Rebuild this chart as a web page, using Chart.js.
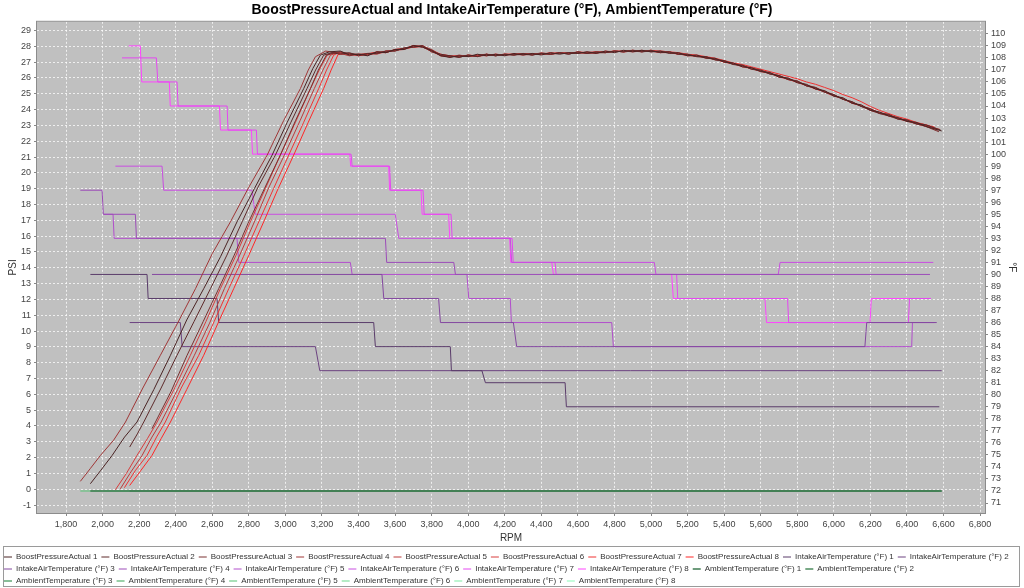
<!DOCTYPE html>
<html>
<head>
<meta charset="utf-8">
<script src="https://cdn.jsdelivr.net/npm/chart.js@4.4.1/dist/chart.umd.min.js"></script>
<style>
  html, body { margin: 0; padding: 0; background: #fff; }
  canvas { display: block; }
</style>
</head>
<body>
<canvas id="chart" width="1024" height="588"></canvas>
<script>
// axis ticks
const rpmTicks = [1800, 2000, 2200, 2400, 2600, 2800, 3000, 3200, 3400, 3600, 3800, 4000, 4200, 4400, 4600, 4800, 5000, 5200,
  5400, 5600, 5800, 6000, 6200, 6400, 6600, 6800];
const psiTicks = [-1, 0, 1, 2, 3, 4, 5, 6, 7, 8, 9, 10, 11, 12, 13, 14, 15, 16, 17, 18, 19, 20, 21, 22, 23, 24, 25, 26, 27, 28, 29];
const degTicks = [71, 72, 73, 74, 75, 76, 77, 78, 79, 80, 81, 82, 83, 84, 85, 86, 87, 88, 89, 90, 91, 92, 93, 94, 95, 96, 97, 98, 99,
  100, 101, 102, 103, 104, 105, 106, 107, 108, 109, 110];

// rpm grid for the flat part of the boost curves (every 50 rpm)
const plateauRpm = [3300, 3350, 3400, 3450, 3500, 3550, 3600, 3650, 3700, 3750, 3800, 3850, 3900, 3950, 4000, 4050, 4100, 4150,
  4200, 4250, 4300, 4350, 4400, 4450, 4500, 4550, 4600, 4650, 4700, 4750, 4800, 4850, 4900, 4950, 5000, 5050, 5100, 5150, 5200,
  5250, 5300, 5350, 5400, 5450, 5500, 5550, 5600, 5650, 5700, 5750, 5800, 5850, 5900, 5950, 6000, 6050, 6100, 6150, 6200, 6250,
  6300, 6350, 6400, 6450, 6500];

// boost ramps [rpm, psi]
const boostRamp1 = [[1933,0.35],[1990,1.2],[2052,2.14],[2120,3.3],[2188,4.25],[2280,6.3],[2371,8.47],[2460,10.7],[2553,12.68],[2645,14.7],[2735,16.9],[2830,19.0],[2927,21.12],[3010,23.2],[3100,25.33],[3150,26.6],[3191,27.44],[3240,27.65]];
const boostRamp2 = [[2148,2.67],[2190,3.5],[2225,4.25],[2320,6.4],[2407,8.47],[2500,10.6],[2590,12.68],[2680,14.8],[2763,16.9],[2850,19.1],[2945,21.12],[3030,23.2],[3118,25.33],[3165,26.5],[3209,27.44],[3255,27.6]];
const boostRamp3 = [[2270,3.83],[2289,4.25],[2375,6.2],[2462,8.47],[2550,10.6],[2635,12.68],[2720,14.8],[2799,16.9],[2885,19.0],[2972,21.12],[3055,23.3],[3137,25.33],[3180,26.5],[3224,27.44],[3270,27.6]];
const boostRamp4 = [[1878,0.5],[1932,1.3],[1988,2.14],[2060,3.1],[2125,4.25],[2220,6.4],[2316,8.47],[2410,10.5],[2508,12.68],[2600,14.9],[2699,16.9],[2800,19.1],[2900,21.12],[2990,23.3],[3082,25.33],[3125,26.5],[3164,27.34],[3220,27.7]];
const boostRamp5 = [[2097,0.03],[2155,1.1],[2216,2.14],[2270,3.3],[2320,4.25],[2410,6.3],[2502,8.47],[2585,10.5],[2666,12.68],[2750,14.8],[2830,16.9],[2910,19.1],[2994,21.12],[3080,23.3],[3158,25.33],[3205,26.5],[3246,27.44],[3285,27.6]];
const boostRamp6 = [[2070,-0.03],[2130,1.0],[2188,2.14],[2245,3.2],[2298,4.25],[2390,6.3],[2480,8.47],[2565,10.6],[2644,12.68],[2730,14.8],[2808,16.9],[2890,19.0],[2972,21.12],[3055,23.2],[3137,25.33],[3185,26.5],[3228,27.44],[3275,27.6]];
const boostRamp7 = [[2119,0.1],[2180,1.2],[2243,2.14],[2295,3.3],[2343,4.25],[2430,6.4],[2526,8.47],[2610,10.6],[2690,12.68],[2770,14.7],[2854,16.9],[2935,19.0],[3018,21.12],[3100,23.2],[3182,25.33],[3225,26.5],[3264,27.44],[3290,27.6]];
const boostRamp8 = [[2148,0.24],[2210,1.2],[2270,2.14],[2320,3.2],[2371,4.25],[2460,6.3],[2553,8.47],[2635,10.6],[2717,12.68],[2800,14.8],[2881,16.9],[2960,19.0],[3045,21.12],[3125,23.2],[3209,25.33],[3250,26.5],[3288,27.48]];

// boost psi on plateauRpm
const boostTop1 = [27.7,27.45,27.5,27.4,27.65,27.6,27.8,27.8,28.05,27.95,
  27.75,27.4,27.3,27.4,27.35,27.5,27.4,27.5,27.4,27.55,
  27.45,27.55,27.45,27.6,27.5,27.6,27.55,27.65,27.55,27.7,
  27.6,27.75,27.65,27.75,27.65,27.7,27.55,27.6,27.4,27.45,
  27.25,27.25,27.0,26.95,26.7,26.65,26.4,26.35,26.05,26.0,
  25.7,25.6,25.3,25.2,24.85,24.75,24.4,24.3,23.95,23.85,
  23.6,23.5,23.25,23.2,22.95];
const boostTop2 = [27.5,27.6,27.4,27.55,27.55,27.7,27.7,27.9,27.95,28.05,
  27.65,27.5,27.4,27.3,27.45,27.35,27.5,27.4,27.5,27.45,
  27.55,27.45,27.55,27.5,27.6,27.5,27.65,27.55,27.65,27.6,
  27.7,27.65,27.75,27.65,27.75,27.6,27.65,27.5,27.5,27.35,
  27.35,27.15,27.1,26.85,26.8,26.55,26.5,26.25,26.15,25.9,
  25.8,25.5,25.4,25.1,24.95,24.65,24.5,24.2,24.05,23.75,
  23.7,23.4,23.35,23.1,23.05];
const boostTop3 = [27.65,27.55,27.5,27.45,27.65,27.6,27.8,27.85,28.05,27.95,
  27.7,27.4,27.4,27.3,27.45,27.35,27.5,27.4,27.5,27.45,
  27.5,27.45,27.55,27.5,27.6,27.5,27.65,27.55,27.6,27.6,
  27.7,27.65,27.75,27.65,27.7,27.6,27.65,27.5,27.45,27.35,
  27.3,27.15,27.05,26.85,26.8,26.55,26.45,26.25,26.15,25.9,
  25.8,25.5,25.35,25.1,24.9,24.65,24.45,24.2,23.95,23.75,
  23.6,23.4,23.3,23.1,22.95];
const boostTop4 = [27.55,27.4,27.5,27.55,27.5,27.7,27.7,27.9,27.95,28.0,
  27.8,27.45,27.3,27.45,27.35,27.45,27.5,27.4,27.5,27.45,
  27.55,27.45,27.6,27.5,27.55,27.6,27.55,27.65,27.6,27.6,
  27.7,27.65,27.7,27.75,27.65,27.7,27.65,27.5,27.5,27.35,
  27.35,27.15,27.1,26.9,26.75,26.65,26.5,26.3,26.15,25.95,
  25.8,25.55,25.4,25.15,24.95,24.65,24.5,24.2,24.05,23.8,
  23.7,23.45,23.35,23.15,23.05];
const boostTop5 = [27.6,27.45,27.5,27.45,27.6,27.7,27.75,27.8,28.0,28.05,
  27.75,27.45,27.4,27.35,27.4,27.4,27.45,27.5,27.45,27.5,
  27.5,27.55,27.5,27.55,27.55,27.6,27.6,27.55,27.65,27.65,
  27.65,27.7,27.7,27.65,27.75,27.65,27.6,27.55,27.45,27.4,
  27.3,27.2,27.05,26.9,26.8,26.6,26.45,26.3,26.1,25.95,
  25.7,25.55,25.3,25.15,24.9,24.7,24.4,24.25,24.0,23.8,
  23.65,23.45,23.25,23.15,23.0];
const boostTop6 = [27.55,27.5,27.45,27.55,27.6,27.6,27.8,27.85,27.95,28.0,
  27.65,27.45,27.35,27.4,27.4,27.35,27.45,27.45,27.5,27.5,
  27.45,27.5,27.55,27.5,27.6,27.55,27.6,27.6,27.55,27.7,
  27.65,27.7,27.65,27.7,27.7,27.6,27.6,27.55,27.4,27.4,
  27.25,27.2,27.0,26.9,26.7,26.6,26.4,26.3,26.05,25.95,
  25.75,25.5,25.35,25.1,24.85,24.7,24.4,24.25,23.95,23.8,
  23.6,23.45,23.3,23.1,22.95];
const boostTop7 = [27.65,27.5,27.45,27.5,27.55,27.65,27.75,27.85,27.95,28.0,
  27.75,27.5,27.4,27.35,27.45,27.4,27.5,27.45,27.5,27.5,
  27.55,27.5,27.5,27.6,27.55,27.55,27.65,27.6,27.6,27.65,
  27.7,27.7,27.75,27.7,27.7,27.7,27.65,27.6,27.5,27.45,
  27.35,27.25,27.1,26.95,26.85,26.7,26.55,26.4,26.25,26.1,
  25.95,25.75,25.6,25.4,25.2,24.95,24.75,24.5,24.2,23.95,
  23.75,23.55,23.4,23.2,23.05];
const boostTop8 = [27.5,27.55,27.4,27.5,27.65,27.6,27.8,27.85,28.05,27.95,
  27.7,27.4,27.35,27.4,27.35,27.45,27.4,27.5,27.45,27.5,
  27.5,27.5,27.55,27.5,27.6,27.55,27.6,27.6,27.65,27.6,
  27.7,27.65,27.7,27.7,27.75,27.65,27.6,27.5,27.45,27.4,
  27.3,27.2,27.0,26.9,26.75,26.6,26.45,26.3,26.1,25.9,
  25.75,25.55,25.3,25.15,24.9,24.7,24.45,24.25,24.05,23.8,
  23.65,23.45,23.3,23.15,23.0];

// last sample of each run [rpm, psi]
const boostEnd = [[6590,22.65],[6585,22.7],[6575,22.6],[6560,22.8],[6580,22.75],[6570,22.7],[6550,22.9],[6555,22.8]];

// intake air temperature, step lines [rpm, °F]
const iat1 = [[1933,90],[2243,90],[2249,88],[2626,88],[2635,86],[3483,86],[3492,84],[3902,84],[3908,82],[4075,82],[4094,81],[4530,81],[4537,79],[6577,79]];
const iat2 = [[2148,86],[2425,86],[2435,84],[3164,84],[3188,82],[6590,82]];
const iat3 = [[2270,90],[3528,90],[3538,88],[3838,88],[3848,86],[4247,86],[4265,84],[6170,84],[6180,86],[6563,86]];
const iat4 = [[1878,97],[1997,97],[2004,95],[2179,95],[2185,93],[3547,93],[3554,91],[3921,91],[3930,90],[6526,90]];
const iat5 = [[2006,95],[2057,95],[2063,93],[2735,93],[2745,91],[3355,91],[3365,90],[3993,90],[4003,88],[4230,88],[4236,86],[4785,86],[4794,84],[6426,84],[6430,86],[6550,86]];
const iat6 = [[2070,99],[2325,99],[2334,97],[2817,97],[2835,95],[3601,95],[3620,93],[4230,93],[4238,91],[5018,91],[5027,90],[5696,90],[5706,91],[6544,91]];
const iat7 = [[2106,108],[2294,108],[2302,106],[2407,106],[2413,104],[2681,104],[2686,102],[2841,102],[2847,100],[3359,100],[3365,99],[3570,99],[3576,97],[3753,97],[3759,95],[3906,95],[3912,93],[4240,93],[4246,91],[4475,91],[4481,90],[5140,90],[5146,88],[5747,88],[5753,86],[6408,86],[6414,88],[6531,88]];
const iat8 = [[2143,109],[2206,109],[2214,106],[2365,106],[2370,104],[2639,104],[2645,102],[2814,102],[2820,100],[3352,100],[3357,99],[3565,99],[3570,97],[3742,97],[3748,95],[3893,95],[3899,93],[4227,93],[4233,91],[4457,91],[4466,90],[5113,90],[5122,88],[5623,88],[5632,86],[6198,86],[6205,88],[6531,88]];

// ambient temperature, flat
const ambientF = 72;
const ambientStart = [1933, 2148, 2270, 1878, 2006, 2070, 2106, 2143];
const ambientEnd = [6590, 6590, 6575, 6560, 6580, 6570, 6550, 6555];

const boostColors = ['#4a2424', '#5e2a2a', '#7a3030', '#a03636', '#bc3a3a', '#d83c3c', '#f03232', '#ff2626'];
const iatColors = ['#5a3c6a', '#6c4280', '#8448a0', '#9c4cb8', '#b24ecc', '#c84ee0', '#e448f0', '#ff44ff'];
const ambColors = ['#3e7a50', '#4c8c5e', '#62a876', '#78c28c', '#8cd6a0', '#9ce6b2', '#a8f2c2', '#b2fcd0'];

const boostRamps = [boostRamp1, boostRamp2, boostRamp3, boostRamp4, boostRamp5, boostRamp6, boostRamp7, boostRamp8];
const boostTops = [boostTop1, boostTop2, boostTop3, boostTop4, boostTop5, boostTop6, boostTop7, boostTop8];
const iats = [iat1, iat2, iat3, iat4, iat5, iat6, iat7, iat8];

const pts = pairs => pairs.map(p => ({ x: p[0], y: p[1] }));

const datasets = [];
boostRamps.forEach((ramp, i) => {
  const top = plateauRpm.map((r, k) => [r, boostTops[i][k]]);
  datasets.push({
    label: 'BoostPressureActual ' + (i + 1),
    data: pts(ramp.concat(top, [boostEnd[i]])),
    borderColor: boostColors[i], backgroundColor: boostColors[i],
    yAxisID: 'y'
  });
});
iats.forEach((d, i) => {
  datasets.push({
    label: 'IntakeAirTemperature (°F) ' + (i + 1),
    data: pts(d),
    borderColor: iatColors[i], backgroundColor: iatColors[i],
    yAxisID: 'y2'
  });
});
ambientStart.forEach((s, i) => {
  datasets.push({
    label: 'AmbientTemperature (°F) ' + (i + 1),
    data: pts([[s, ambientF], [ambientEnd[i], ambientF]]),
    borderColor: ambColors[i], backgroundColor: ambColors[i],
    borderWidth: 1.5,
    yAxisID: 'y2'
  });
});

const tickFont = { family: 'Liberation Sans', size: 9 };
const titleFont = { family: 'Liberation Sans', size: 10 };
const useTicks = list => scale => { scale.ticks = list.map(v => ({ value: v })); };

// grey plot background + frame, legend frame
const frame = {
  id: 'frame',
  beforeDraw(chart) {
    const { ctx, chartArea: a } = chart;
    ctx.save();
    ctx.fillStyle = '#fff';
    ctx.fillRect(0, 0, chart.width, chart.height);
    ctx.fillStyle = '#c0c0c0';
    ctx.fillRect(a.left, a.top, a.right - a.left, a.bottom - a.top);
    ctx.restore();
  },
  afterLayout(chart) {
    // nudge legend rows down a bit
    chart.legend.top += 7;
    chart.legend.bottom += 7;
  },
  afterDraw(chart) {
    const { ctx, chartArea: a } = chart;
    ctx.save();
    ctx.strokeStyle = '#8c8c8c';
    ctx.lineWidth = 1;
    ctx.strokeRect(a.left - 0.5, a.top - 0.5, a.right - a.left + 1, a.bottom - a.top + 1);
    ctx.strokeStyle = '#9a9a9a';
    ctx.strokeRect(3.5, 546.5, 1016, 40);
    ctx.restore();
  }
};

new Chart(document.getElementById('chart'), {
  type: 'line',
  data: { datasets: datasets },
  plugins: [frame],
  options: {
    responsive: false,
    animation: false,
    layout: { padding: 0 },
    elements: {
      point: { radius: 0, hoverRadius: 0 },
      line: { borderWidth: 1, tension: 0 }
    },
    plugins: {
      tooltip: { enabled: false },
      title: {
        display: true,
        text: 'BoostPressureActual and IntakeAirTemperature (°F), AmbientTemperature (°F)',
        font: { family: 'Liberation Sans', size: 14, weight: 'bold' },
        color: '#000',
        padding: { top: 2, bottom: 3 }
      },
      legend: {
        position: 'bottom',
        align: 'start',
        labels: {
          usePointStyle: true,
          pointStyle: 'line',
          pointStyleWidth: 8,
          boxWidth: 8,
          padding: 4,
          color: '#333',
          font: { family: 'Liberation Sans', size: 8, lineHeight: '9px' }
        }
      }
    },
    scales: {
      x: {
        type: 'linear',
        min: 1641, max: 6827,
        afterBuildTicks: useTicks(rpmTicks),
        ticks: { autoSkip: false, maxRotation: 0, padding: 3, font: tickFont, color: '#444' },
        grid: { color: 'rgba(255,255,255,0.75)', tickColor: '#888', tickLength: 3 },
        border: { display: false, dash: [2, 2] },
        title: { display: true, text: 'RPM', font: titleFont, color: '#333', padding: { top: 0, bottom: -2 } },
        afterFit(s) { s.height = 588 - 513 - (s.chart.legend ? s.chart.legend.height : 49); }
      },
      y: {
        position: 'left',
        min: -1.5, max: 29.55,
        afterBuildTicks: useTicks(psiTicks),
        ticks: { autoSkip: false, padding: 3, font: tickFont, color: '#444' },
        grid: { color: 'rgba(255,255,255,0.75)', tickColor: '#888', tickLength: 3 },
        border: { display: false, dash: [2, 2] },
        title: { display: true, text: 'PSI', font: titleFont, color: '#333', padding: { top: 7, bottom: 0 } },
        afterFit(s) { s.width = 37; }
      },
      y2: {
        position: 'right',
        min: 70.17, max: 111,
        afterBuildTicks: useTicks(degTicks),
        ticks: { autoSkip: false, padding: 3, font: tickFont, color: '#444' },
        grid: { drawOnChartArea: false, tickColor: '#888', tickLength: 3 },
        border: { display: false },
        title: { display: true, text: '°F', font: titleFont, color: '#333', padding: { top: 6, bottom: 0 } },
        afterFit(s) { s.width = 39; }
      }
    }
  }
});
</script>
</body>
</html>
